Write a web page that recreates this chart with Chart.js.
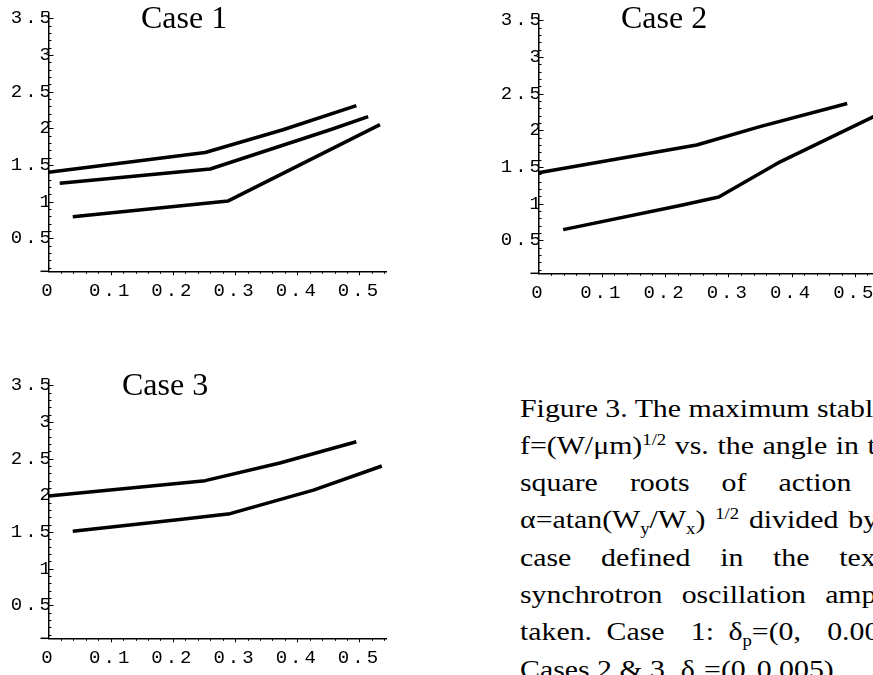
<!DOCTYPE html>
<html>
<head>
<meta charset="utf-8">
<title>Figure 3</title>
<script src="https://cdn.jsdelivr.net/npm/chart.js@4.4.0/dist/chart.umd.min.js"></script>
<style>
  html, body { margin: 0; padding: 0; background: #fff; overflow: hidden; }
  body { width: 873px; height: 675px; position: relative; }
  .plot { position: absolute; }
  .case { position: absolute; font-family: "Liberation Serif", "Times New Roman", serif; font-size: 32px; line-height: 32px; color: #000; white-space: nowrap; }
  .caption { position: absolute; left: 520px; top: 389.6px; transform: scaleX(1.17); transform-origin: 0 0; font-family: "Liberation Serif", "Times New Roman", serif; font-size: 25.5px; line-height: 37.3px; color: #000; white-space: nowrap; }
  .caption sup, .caption sub { font-size: 16px; line-height: 0; }
</style>
</head>
<body>
<canvas id="case1" class="plot" width="400" height="310" style="left:0;top:0"></canvas>
<canvas id="case2" class="plot" width="392" height="310" style="left:490px;top:2px"></canvas>
<canvas id="case3" class="plot" width="400" height="310" style="left:0;top:367px"></canvas>

<div class="case" style="left:141px;top:1px">Case 1</div>
<div class="case" style="left:621px;top:1px">Case 2</div>
<div class="case" style="left:122px;top:368px">Case 3</div>

<div class="caption">
  <div>Figure 3. The maximum stable</div>
  <div style="word-spacing:1px">f=(W/&mu;m)<sup>1/2</sup> vs. the angle in the</div>
  <div style="word-spacing:21px">square roots of action variables</div>
  <div style="word-spacing:2px">&alpha;=atan(W<sub>y</sub>/W<sub>x</sub>) <sup>1/2</sup> divided by</div>
  <div style="word-spacing:19px">case defined in the text.</div>
  <div style="word-spacing:10px">synchrotron oscillation amplitudes</div>
  <div style="word-spacing:6px">taken. Case <span style="margin-left:10px">1:</span> &delta;<sub>p</sub>=(0, <span style="margin-left:10px">0.005,</span></div>
  <div>Cases 2 &amp; 3 <span style="margin-left:7px">&delta;<sub>p</sub>=(0</span> <span style="margin-left:3px">0.005)</span></div>
</div>

<script>
const xTickValues = [0, 0.1, 0.2, 0.3, 0.4, 0.5];
const yTickValues = [0.5, 1, 1.5, 2, 2.5, 3, 3.5];
const xRange = [0, 0.543];
const yRange = [0.05, 3.57];

// Case 1: three curves
const case1Upper = [[0, 1.40], [0.252, 1.67], [0.377, 1.98], [0.495, 2.31]];
const case1Middle = [[0.018, 1.25], [0.26, 1.445], [0.453, 1.98], [0.514, 2.16]];
const case1Lower = [[0.039, 0.795], [0.289, 1.01], [0.533, 2.05]];

// Case 2
const case2Upper = [[0, 1.42], [0.25, 1.80], [0.35, 2.05], [0.488, 2.365]];
const case2Lower = [[0.039, 0.646], [0.224, 0.975], [0.285, 1.09], [0.382, 1.57], [0.533, 2.20]];

// Case 3
const case3Upper = [[0, 1.99], [0.252, 2.20], [0.372, 2.44], [0.495, 2.73]];
const case3Lower = [[0.039, 1.51], [0.211, 1.67], [0.292, 1.75], [0.426, 2.07], [0.536, 2.40]];

function steps(from, to, step) {
  const out = [];
  for (let v = from; v <= to + 1e-9; v += step) out.push(Math.round(v * 1000) / 1000);
  return out;
}

const xMinor = steps(0.02, 0.54, 0.02);
const yMinor = steps(0.1, 3.5, 0.1);

const spacedLabels = {
  id: "spacedLabels",
  beforeDraw(chart) {
    chart.ctx.letterSpacing = "3px";
  }
};

const axisTicks = {
  id: "axisTicks",
  afterDraw(chart) {
    const { ctx, chartArea, scales: { x, y } } = chart;
    ctx.save();
    ctx.letterSpacing = "0px";
    ctx.strokeStyle = "#000";
    ctx.lineWidth = 1;
    ctx.beginPath();
    yMinor.forEach(v => {
      const py = Math.round(y.getPixelForValue(v)) + 0.5;
      const len = yTickValues.includes(v) ? 5 : 3;
      ctx.moveTo(chartArea.left, py);
      ctx.lineTo(chartArea.left + len, py);
    });
    xMinor.forEach(v => {
      const px = Math.round(x.getPixelForValue(v)) + 0.5;
      const len = xTickValues.includes(v) ? 4 : 2.5;
      ctx.moveTo(px, chartArea.bottom);
      ctx.lineTo(px, chartArea.bottom + len);
    });
    ctx.stroke();
    // the x axis runs a little past the y axis on the left
    ctx.lineWidth = 1.5;
    ctx.beginPath();
    ctx.moveTo(chartArea.left - 8, chartArea.bottom);
    ctx.lineTo(chartArea.left, chartArea.bottom);
    ctx.stroke();
    ctx.restore();
  }
};

const tickFont = { family: "'Liberation Mono', 'Courier New', monospace", size: 19 };

function buildChart(id, series, padRight) {
  const ctx = document.getElementById(id).getContext("2d");
  new Chart(ctx, {
    type: "scatter",
    data: {
      datasets: series.map(s => ({
        data: s.map(p => ({ x: p[0], y: p[1] })),
        showLine: true,
        borderColor: "#000",
        borderWidth: 3.5,
        borderJoinStyle: "round",
        pointRadius: 0,
        tension: 0
      }))
    },
    options: {
      responsive: false,
      animation: false,
      events: [],
      layout: { padding: { top: 13.2, right: padRight, bottom: 0, left: 0 } },
      plugins: { legend: { display: false }, tooltip: { enabled: false } },
      scales: {
        x: {
          type: "linear",
          min: xRange[0],
          max: xRange[1],
          afterBuildTicks: s => { s.ticks = xTickValues.map(v => ({ value: v })); },
          afterFit: s => { s.height = 38.7; },
          grid: { display: false, drawTicks: false },
          border: { display: true, color: "#000", width: 1.5 },
          ticks: { color: "#000", padding: 8, maxRotation: 0, autoSkip: false, font: tickFont, callback: v => String(v) }
        },
        y: {
          type: "linear",
          min: yRange[0],
          max: yRange[1],
          afterBuildTicks: s => { s.ticks = yTickValues.map(v => ({ value: v })); },
          afterFit: s => { s.width = 48.5; },
          grid: { display: false, drawTicks: false },
          border: { display: true, color: "#000", width: 1.5 },
          ticks: { color: "#000", padding: -5.5, autoSkip: false, font: tickFont, callback: v => String(v) }
        }
      }
    },
    plugins: [spacedLabels, axisTicks]
  });
}

buildChart("case1", [case1Upper, case1Middle, case1Lower], 13.8);
buildChart("case2", [case2Upper, case2Lower], 0);
buildChart("case3", [case3Upper, case3Lower], 13.8);
</script>
</body>
</html>
